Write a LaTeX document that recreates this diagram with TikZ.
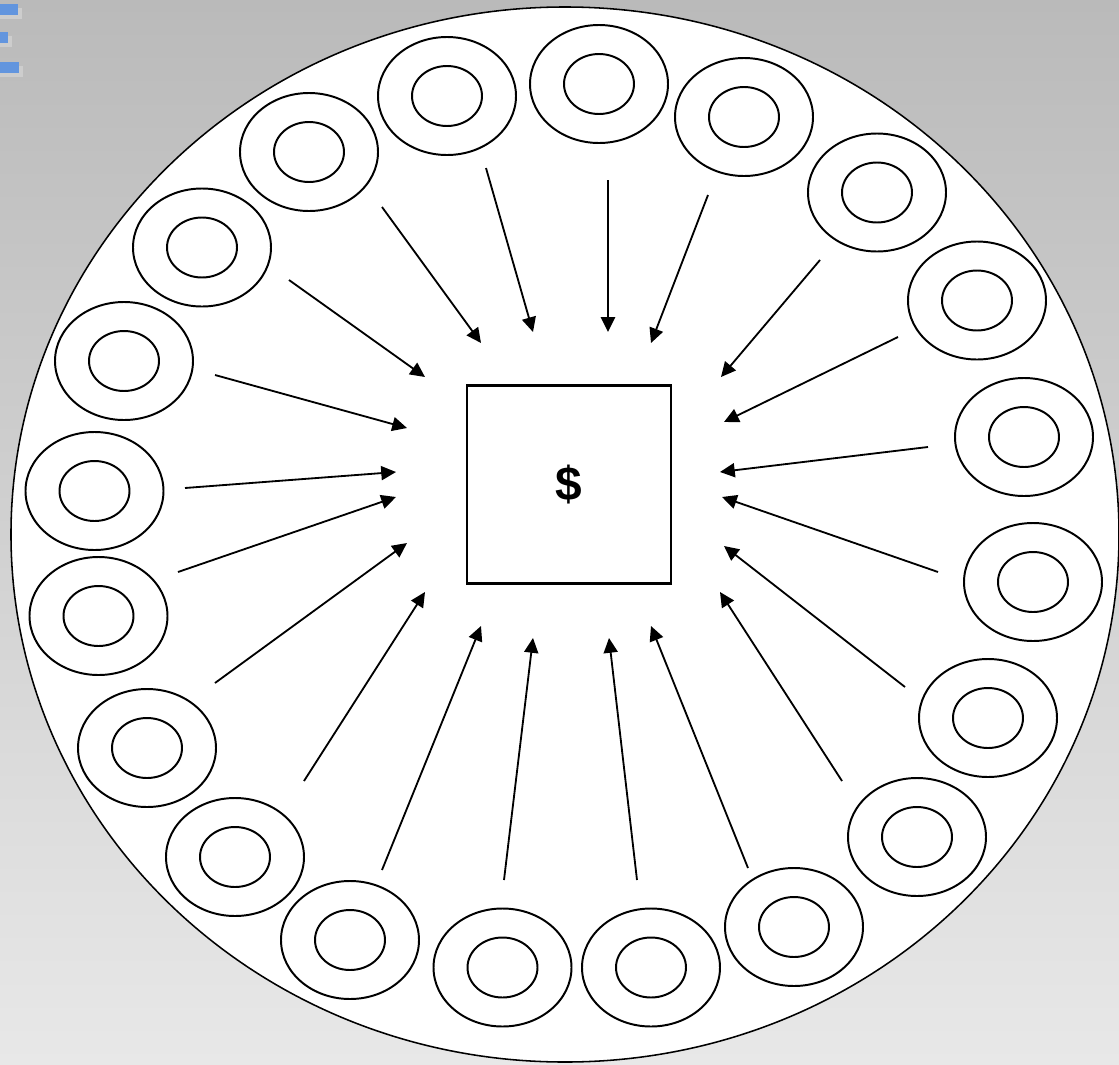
\documentclass[tikz,border=0pt]{standalone}
\usepackage{fontspec}
\newfontfamily\dollarfont{Liberation Sans}
\usepackage{tikz}
\usetikzlibrary{shapes.geometric,arrows.meta}

\tikzset{
  outerring/.style={draw,ellipse,line width=1.4pt,minimum width=34.5mm,minimum height=29.5mm,inner sep=0pt},
  innerring/.style={draw,ellipse,line width=1.4pt,minimum width=17.5mm,minimum height=15mm,inner sep=0pt},
  flow/.style={line width=1.3pt,-{Triangle[length=10.5pt,width=10pt]}},
}

\begin{document}
\begin{tikzpicture}[x=0.25mm,y=-0.25mm]
  \definecolor{bgtop}{RGB}{186,186,186}
  \definecolor{bgbottom}{RGB}{232,232,232}
  \definecolor{lblue}{RGB}{98,149,222}
  \definecolor{lshadow}{RGB}{205,205,205}
  \useasboundingbox (0,0) rectangle (1119,1065);
  \shade[top color=bgtop,bottom color=bgbottom] (0,0) rectangle (1119,1065);
  % slide bullets in the corner
  \fill[lshadow] (0,8) rectangle (22,19);
  \fill[lblue] (0,4) rectangle (18,15);
  \fill[lshadow] (0,36) rectangle (12,47);
  \fill[lblue] (0,32) rectangle (8,43);
  \fill[lshadow] (0,66) rectangle (23,77);
  \fill[lblue] (0,62) rectangle (19,73);
  % plate and till
  \node[draw,fill=white,ellipse,line width=1.1pt,minimum width=277mm,minimum height=263.75mm,inner sep=0pt] (plate) at (565,534.5) {};
  \node[draw,line width=1.5pt,minimum width=51mm,minimum height=49.5mm,inner sep=0pt,font=\dollarfont\bfseries\fontsize{34}{40}\selectfont] (till) at (569,484.5) {\$};
  % rings
  \node[outerring] (r1) at (447,96) {};
  \node[innerring] (r1i) at (r1) {};
  \node[outerring] (r2) at (599,84) {};
  \node[innerring] (r2i) at (r2) {};
  \node[outerring] (r3) at (744,117) {};
  \node[innerring] (r3i) at (r3) {};
  \node[outerring] (r4) at (877,192.5) {};
  \node[innerring] (r4i) at (r4) {};
  \node[outerring] (r5) at (977,300.5) {};
  \node[innerring] (r5i) at (r5) {};
  \node[outerring] (r6) at (1024,437) {};
  \node[innerring] (r6i) at (r6) {};
  \node[outerring] (r7) at (1033,582) {};
  \node[innerring] (r7i) at (r7) {};
  \node[outerring] (r8) at (988,718) {};
  \node[innerring] (r8i) at (r8) {};
  \node[outerring] (r9) at (917,837) {};
  \node[innerring] (r9i) at (r9) {};
  \node[outerring] (r10) at (794,927) {};
  \node[innerring] (r10i) at (r10) {};
  \node[outerring] (r11) at (651,967.5) {};
  \node[innerring] (r11i) at (r11) {};
  \node[outerring] (r12) at (502.5,967.5) {};
  \node[innerring] (r12i) at (r12) {};
  \node[outerring] (r13) at (350,940) {};
  \node[innerring] (r13i) at (r13) {};
  \node[outerring] (r14) at (235,857) {};
  \node[innerring] (r14i) at (r14) {};
  \node[outerring] (r15) at (147,748) {};
  \node[innerring] (r15i) at (r15) {};
  \node[outerring] (r16) at (98.5,616) {};
  \node[innerring] (r16i) at (r16) {};
  \node[outerring] (r17) at (94.5,491) {};
  \node[innerring] (r17i) at (r17) {};
  \node[outerring] (r18) at (124,361) {};
  \node[innerring] (r18i) at (r18) {};
  \node[outerring] (r19) at (202,247.5) {};
  \node[innerring] (r19i) at (r19) {};
  \node[outerring] (r20) at (309,152) {};
  \node[innerring] (r20i) at (r20) {};
  % arrow ends
  \coordinate (s1) at (486,168);
  \coordinate (e1) at (533,332);
  \coordinate (s2) at (608,180);
  \coordinate (e2) at (608,332);
  \coordinate (s3) at (708,195);
  \coordinate (e3) at (651,343);
  \coordinate (s4) at (820,260);
  \coordinate (e4) at (721,377);
  \coordinate (s5) at (898,337);
  \coordinate (e5) at (724,422);
  \coordinate (s6) at (928,447);
  \coordinate (e6) at (720,472);
  \coordinate (s7) at (938,572);
  \coordinate (e7) at (722,497);
  \coordinate (s8) at (905,687);
  \coordinate (e8) at (724,546);
  \coordinate (s9) at (842,781);
  \coordinate (e9) at (720,592);
  \coordinate (s10) at (748,868);
  \coordinate (e10) at (651,626);
  \coordinate (s11) at (637,880);
  \coordinate (e11) at (609,638);
  \coordinate (s12) at (504,880);
  \coordinate (e12) at (533,638);
  \coordinate (s13) at (382,870);
  \coordinate (e13) at (481,626);
  \coordinate (s14) at (304,781);
  \coordinate (e14) at (425,592);
  \coordinate (s15) at (215,683);
  \coordinate (e15) at (407,543);
  \coordinate (s16) at (178,572);
  \coordinate (e16) at (396,497);
  \coordinate (s17) at (185,488);
  \coordinate (e17) at (396,472);
  \coordinate (s18) at (215,375);
  \coordinate (e18) at (407,428);
  \coordinate (s19) at (289,280);
  \coordinate (e19) at (425,377);
  \coordinate (s20) at (382,207);
  \coordinate (e20) at (481,343);
  % arrows
  \draw[flow] (s1) -- (e1);
  \draw[flow] (s2) -- (e2);
  \draw[flow] (s3) -- (e3);
  \draw[flow] (s4) -- (e4);
  \draw[flow] (s5) -- (e5);
  \draw[flow] (s6) -- (e6);
  \draw[flow] (s7) -- (e7);
  \draw[flow] (s8) -- (e8);
  \draw[flow] (s9) -- (e9);
  \draw[flow] (s10) -- (e10);
  \draw[flow] (s11) -- (e11);
  \draw[flow] (s12) -- (e12);
  \draw[flow] (s13) -- (e13);
  \draw[flow] (s14) -- (e14);
  \draw[flow] (s15) -- (e15);
  \draw[flow] (s16) -- (e16);
  \draw[flow] (s17) -- (e17);
  \draw[flow] (s18) -- (e18);
  \draw[flow] (s19) -- (e19);
  \draw[flow] (s20) -- (e20);
\end{tikzpicture}
\end{document}
